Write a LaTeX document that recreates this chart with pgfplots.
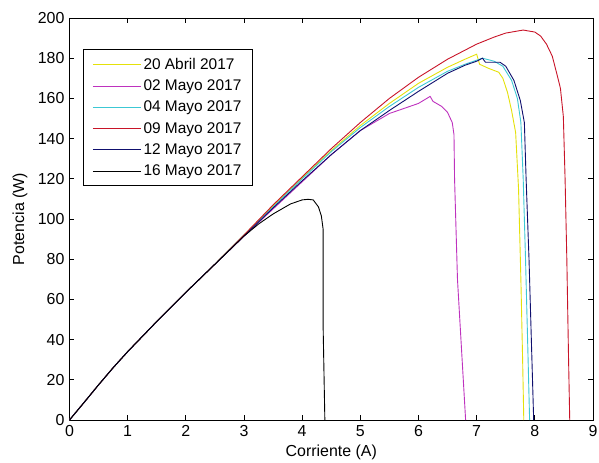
\documentclass[border=0pt]{standalone}
\usepackage{fontspec}
\setmainfont{Liberation Sans}
\usepackage{pgfplots}
\pgfplotsset{compat=1.18}
\definecolor{cyel}{RGB}{228,225,10}
\definecolor{cmag}{RGB}{190,50,190}
\definecolor{ccya}{RGB}{60,200,212}
\definecolor{cred}{RGB}{200,20,40}
\definecolor{cblu}{RGB}{15,15,110}
\begin{document}
\begin{tikzpicture}
\begin{axis}[name=ax, scale only axis, width=523.5bp, height=402bp,
  xmin=0, xmax=9, ymin=0, ymax=200,
  xtick={0,1,...,9}, ytick={0,20,...,200},
  tick align=inside, tick pos=both, major tick length=5bp,
  axis line style={line width=0.8bp},
  every tick/.style={black, line width=0.8bp},
  /pgf/number format/assume math mode=true,
  tick label style={font=\fontsize{16}{16}\selectfont},
  xticklabel style={yshift=-2bp},
  yticklabel style={xshift=-1.5bp},
  label style={font=\fontsize{16}{16}\selectfont},
  xlabel={Corriente (A)}, ylabel={Potencia (W)},
  xlabel style={at={(axis description cs:0.5,-0.08)}, anchor=center},
  ylabel style={at={(axis description cs:-0.0946,0.5)}, anchor=center},
  legend style={at={(axis description cs:0.0258,0.922)}, anchor=north west,
    draw=black, line width=0.8bp, font=\fontsize{15.5}{17}\selectfont,
    row sep=5bp, inner xsep=9bp, inner ysep=6.5bp},
  legend cell align=left,
  legend image code/.code={\draw[#1, line width=1.1bp] (0bp,0bp) -- (48bp,0bp);},
  every axis plot/.append style={line width=0.9bp},
]
\addplot[cyel] coordinates {(0,0) (0.25,8.7) (0.5,17.5) (0.75,26) (1,34) (1.5,49) (2,63.5) (2.5,77.5) (3,92)
 (3.5,106.5) (4,120.5) (4.5,134) (5,146.5) (5.5,157.5) (6,167.5) (6.5,175.5) (6.8,179.5) (7.0,182)
 (7.05,177) (7.2,175) (7.38,173) (7.45,170) (7.53,163) (7.6,154) (7.67,143) (7.72,115) (7.76,70) (7.79,30) (7.81,0)};
\addlegendentry{20 Abril 2017}
\addplot[cmag] coordinates {(0,0) (0.25,8.7) (0.5,17.5) (0.75,26) (1,34) (1.5,49) (2,63.5) (2.5,77.5) (3,91.5)
 (3.5,105) (4,118.5) (4.5,132) (5,144) (5.5,152.5) (6,157.5) (6.2,161) (6.25,158.5) (6.4,156) (6.5,153)
 (6.58,148) (6.61,142) (6.62,120) (6.67,70) (6.74,35) (6.81,0)};
\addlegendentry{02 Mayo 2017}
\addplot[ccya] coordinates {(0,0) (0.25,8.7) (0.5,17.5) (0.75,26) (1,34) (1.5,49) (2,63.5) (2.5,77.5) (3,92)
 (3.5,106) (4,120) (4.5,133.5) (5,145.5) (5.5,156) (6,165.5) (6.5,173.5) (6.8,177) (7.0,179) (7.1,180)
 (7.3,178.5) (7.45,176) (7.6,169) (7.7,160) (7.76,148) (7.8,120) (7.84,80) (7.88,35) (7.91,0)};
\addlegendentry{04 Mayo 2017}
\addplot[cred] coordinates {(0,0) (0.25,8.7) (0.5,17.5) (0.75,26) (1,34) (1.5,49) (2,63.5) (2.5,77.5) (3,92)
 (3.5,107) (4,121) (4.5,135) (5,148) (5.5,160) (6,170.5) (6.5,179.5) (7,187) (7.3,190.5) (7.5,192.5)
 (7.8,194) (8.0,193) (8.1,191) (8.2,187) (8.3,181) (8.38,172) (8.44,165) (8.49,151) (8.52,120)
 (8.55,80) (8.58,30) (8.6,0)};
\addlegendentry{09 Mayo 2017}
\addplot[cblu] coordinates {(0,0) (0.25,8.7) (0.5,17.5) (0.75,26) (1,34) (1.5,49) (2,63.5) (2.5,77.5) (3,91.5)
 (3.5,105.5) (4,119) (4.5,132) (5,144) (5.5,154) (6,163.5) (6.5,172.5) (6.8,176.5) (7.0,178.5) (7.1,180)
 (7.15,178) (7.4,178) (7.5,176) (7.64,169) (7.75,159) (7.82,148) (7.85,120) (7.9,80) (7.95,30) (7.98,0)};
\addlegendentry{12 Mayo 2017}
\addplot[black] coordinates {(0,0) (0.25,8.7) (0.5,17.5) (0.75,26) (1,34) (1.5,49) (2,63.5) (2.5,77.5) (3,91.5)
 (3.25,97.5) (3.5,102.5) (3.8,107.5) (4.0,109.5) (4.1,109.8) (4.19,109.5) (4.28,106) (4.33,101.5) (4.36,95) (4.36,47) (4.39,0)};
\addlegendentry{16 Mayo 2017}
\end{axis}
\pgfresetboundingbox
\path[use as bounding box] ([xshift=-69.5bp,yshift=-43bp]ax.south west) rectangle ([xshift=6bp,yshift=18bp]ax.north east);
\end{tikzpicture}
\end{document}
